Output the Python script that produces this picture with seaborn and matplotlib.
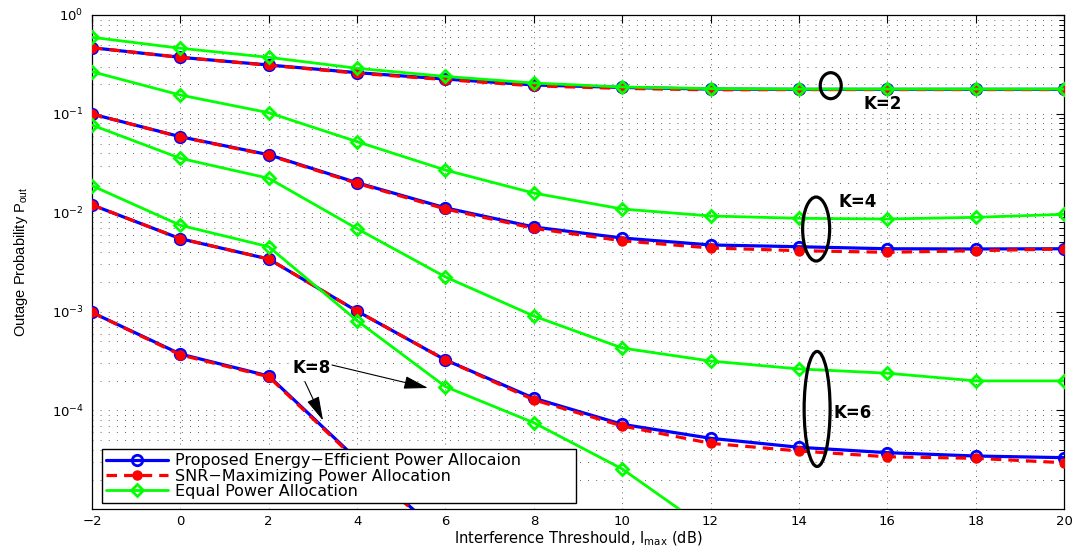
import matplotlib
matplotlib.use("Agg")
import matplotlib.pyplot as plt
import seaborn as sns
import pandas as pd
from matplotlib.patches import Ellipse
from matplotlib.lines import Line2D
from matplotlib.ticker import LogLocator, NullFormatter, FixedLocator

# ---------------- data ----------------
imax_db = [-2, 0, 2, 4, 6, 8, 10, 12, 14, 16, 18, 20]

# K = 2
k2_proposed = [0.467, 0.373, 0.312, 0.261, 0.225, 0.196, 0.185, 0.178, 0.177, 0.177, 0.177, 0.177]
k2_snr      = [0.467, 0.373, 0.310, 0.258, 0.222, 0.192, 0.181, 0.175, 0.176, 0.176, 0.176, 0.176]
k2_equal    = [0.595, 0.461, 0.373, 0.289, 0.239, 0.205, 0.187, 0.180, 0.178, 0.178, 0.178, 0.178]
# K = 4
k4_proposed = [0.0997, 0.0587, 0.0386, 0.0201, 0.0112, 0.00717, 0.00555, 0.00472, 0.00453, 0.00432, 0.00430, 0.00432]
k4_snr      = [0.0997, 0.0584, 0.0382, 0.0198, 0.0109, 0.00695, 0.00520, 0.00440, 0.00413, 0.00398, 0.00413, 0.00430]
k4_equal    = [0.267, 0.155, 0.1027, 0.0523, 0.0270, 0.0158, 0.0109, 0.00927, 0.00878, 0.00864, 0.00898, 0.00964]
# K = 6
k6_proposed = [0.0120, 0.00546, 0.00340, 0.00101, 0.000324, 0.000133, 7.24e-5, 5.23e-5, 4.24e-5, 3.74e-5, 3.46e-5, 3.33e-5]
k6_snr      = [0.0120, 0.00546, 0.00340, 0.00101, 0.000324, 0.000128, 6.97e-5, 4.65e-5, 3.89e-5, 3.40e-5, 3.28e-5, 2.96e-5]
k6_equal    = [0.0771, 0.0355, 0.0223, 0.00689, 0.00224, 0.000902, 0.000428, 0.000316, 0.000263, 0.000238, 0.000199, 0.000199]
# K = 8 (curves leave the plotted range)
k8_imax     = [-2, 0, 2, 4, 6]
k8_proposed = [0.00098, 0.000372, 0.000223, 3.2e-5, 5.1e-6]
k8_snr      = [0.00098, 0.000365, 0.000219, 3.1e-5, 5.0e-6]
k8_eq_imax  = [-2, 0, 2, 4, 6, 8, 10, 12]
k8_equal    = [0.01876, 0.00746, 0.00453, 0.000809, 0.000174, 7.51e-5, 2.56e-5, 6.0e-6]

legend_labels = ["Proposed Energy\u2212Efficient Power Allocaion",
                 "SNR\u2212Maximizing Power Allocation",
                 "Equal Power Allocation"]
x_label = "Interference Threshould, I$_{\\mathdefault{max}}$ (dB)"
y_label = "Outage Probability P$_{\\mathdefault{out}}$"

# ---------------- style ----------------
sns.set_theme(style="white")
plt.rcParams['font.family'] = ['DejaVu Sans']
plt.rcParams['text.color'] = 'black'
plt.rcParams['axes.labelcolor'] = 'black'
plt.rcParams['xtick.color'] = 'black'
plt.rcParams['ytick.color'] = 'black'
plt.rcParams['axes.edgecolor'] = 'black'
plt.rcParams['axes.linewidth'] = 0.9

BLUE, RED, GREEN = "#0000ff", "#ff0000", "#00ff00"
sty_prop = dict(color=BLUE, lw=2.3, marker='o', markersize=7.5, markerfacecolor='none',
                markeredgecolor=BLUE, markeredgewidth=2.0)
sty_snr = dict(color=RED, lw=2.3, linestyle=(0, (3.3, 2.2)), marker='o', markersize=6.5,
               markerfacecolor=RED, markeredgecolor=RED, markeredgewidth=1.0)
sty_eq = dict(color=GREEN, lw=2.0, marker='D', markersize=6, markerfacecolor='none',
              markeredgecolor=GREEN, markeredgewidth=2.0)

fig = plt.figure(figsize=(10.78, 5.52), dpi=100)
ax = fig.add_axes([92 / 1078, (552 - 509.3) / 552, 972 / 1078, 494.3 / 552])
ax.set_yscale('log')

groups = [
    (imax_db, k2_proposed, imax_db, k2_snr, imax_db, k2_equal),
    (imax_db, k4_proposed, imax_db, k4_snr, imax_db, k4_equal),
    (imax_db, k6_proposed, imax_db, k6_snr, imax_db, k6_equal),
    (k8_imax, k8_proposed, k8_imax, k8_snr, k8_eq_imax, k8_equal),
]
for xp, yp, xs, ys, xe, ye in groups:
    sns.lineplot(x=xp, y=yp, ax=ax, sort=False, legend=False, zorder=3, **sty_prop)
    sns.lineplot(x=xs, y=ys, ax=ax, sort=False, legend=False, zorder=3, **sty_snr)
    sns.lineplot(x=xe, y=ye, ax=ax, sort=False, legend=False, zorder=3, **sty_eq)

ax.set_xlim(-2, 20)
ax.set_ylim(1e-5, 1)
ax.set_xticks(imax_db)
ax.set_xticklabels([f"{v}".replace("-", "\u2212") for v in imax_db])
ax.yaxis.set_major_locator(FixedLocator([1e-4, 1e-3, 1e-2, 1e-1, 1e0]))
ax.yaxis.set_minor_locator(LogLocator(base=10, subs=range(2, 10), numticks=20))
ax.yaxis.set_minor_formatter(NullFormatter())
ax.tick_params(which='both', direction='in', top=True, right=True, colors='black',
               labelsize=9.5)
ax.tick_params(which='major', length=6, width=0.8)
ax.tick_params(which='minor', length=3.5, width=0.7)
ax.tick_params(axis='x', pad=4)
ax.tick_params(axis='y', pad=6)

ax.xaxis.grid(True, which='major', color='0.3', linestyle=(0, (1, 5)), lw=0.65)
ax.yaxis.grid(True, which='both', color='0.3', linestyle=(0, (1, 8)), lw=0.65)
ax.set_axisbelow(True)
for s in ax.spines.values():
    s.set_visible(True)
    s.set_color('black')

ax.set_xlabel(x_label, fontsize=10.5, color='black')
ax.xaxis.set_label_coords(0.5, -0.041)
ax.set_ylabel(y_label, fontsize=10.5, color='black', family=['Liberation Sans'])
ax.yaxis.set_label_coords(-0.064, 0.5)

# legend
handles = [Line2D([], [], **sty_prop), Line2D([], [], **sty_snr), Line2D([], [], **sty_eq)]
leg = ax.legend(handles, legend_labels, loc='lower left',
                bbox_to_anchor=(0.0103, 0.0127, 0.4877, 0.11), mode='expand',
                frameon=True, fancybox=False, framealpha=1, edgecolor='black',
                fontsize=11.5, handlelength=3.9, handletextpad=0.45, labelspacing=0.02,
                borderpad=0.25, borderaxespad=0.0, numpoints=1)
leg.get_frame().set_linewidth(1.0)
leg.set_zorder(10)

# annotations: ellipses grouping curves
for cx, cy, w, h in [(0.760, 0.857, 0.0216, 0.0526),
                     (0.745, 0.567, 0.0278, 0.1295),
                     (0.746, 0.203, 0.0267, 0.2327)]:
    ax.add_patch(Ellipse((cx, cy), w, h, transform=ax.transAxes, fill=False,
                         edgecolor='black', lw=2.3, zorder=6))
for tx, ty, s in [(0.813, 0.820, "K=2"), (0.788, 0.622, "K=4"), (0.783, 0.195, "K=6")]:
    ax.text(tx, ty, s, transform=ax.transAxes, fontsize=12, fontweight='bold',
            ha='center', va='center', zorder=7, color='black')

ax.text(0.226, 0.286, "K=8", transform=ax.transAxes, fontsize=12, fontweight='bold',
        ha='center', va='center', zorder=7, color='black')
arrow_kw = dict(arrowstyle='-|>,head_length=0.75,head_width=0.2', color='black', lw=0.8,
                mutation_scale=20, shrinkA=0, shrinkB=0)
ax.annotate("", xy=(0.2377, 0.1796), xytext=(0.2191, 0.2580), xycoords='axes fraction',
            textcoords='axes fraction', arrowprops=arrow_kw, zorder=7)
ax.annotate("", xy=(0.3457, 0.2454), xytext=(0.2469, 0.2919), xycoords='axes fraction',
            textcoords='axes fraction', arrowprops=arrow_kw, zorder=7)

fig.savefig("out.png", dpi=100, facecolor='white')
